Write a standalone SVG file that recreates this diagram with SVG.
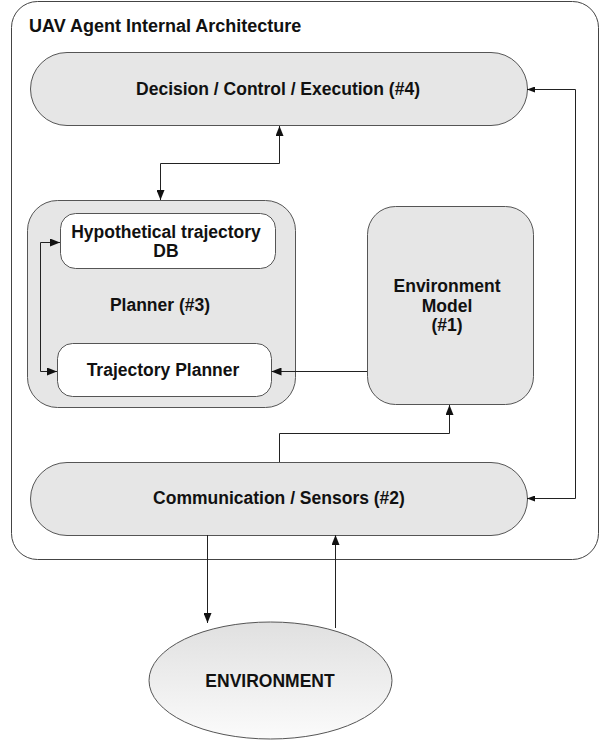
<svg xmlns="http://www.w3.org/2000/svg" width="602" height="742" viewBox="0 0 602 742">
<style>
.box{fill:#e6e6e6;stroke:#555;stroke-width:1}
.inner{fill:#fff;stroke:#555;stroke-width:1}
.t{font-family:"Liberation Sans",Arial,sans-serif;font-weight:bold;font-size:17.5px;fill:#111;text-anchor:middle}
.title{font-size:18px;text-anchor:start}
.c{fill:none;stroke:#222;stroke-width:1}
</style>
<defs>
<marker id="ah" viewBox="0 0 10 8" refX="10" refY="4" markerWidth="10" markerHeight="8" markerUnits="userSpaceOnUse" orient="auto-start-reverse">
<path d="M0,0 L10,4 L0,8 z" fill="#111"/>
</marker>
<marker id="ahs" viewBox="0 0 8 6" refX="8" refY="3" markerWidth="8" markerHeight="6" markerUnits="userSpaceOnUse" orient="auto-start-reverse">
<path d="M0,0 L8,3 L0,6 z" fill="#111"/>
</marker>
<linearGradient id="eg" x1="0" y1="0" x2="0" y2="1">
<stop offset="0" stop-color="#e0e0e0"/>
<stop offset="1" stop-color="#fbfbfb"/>
</linearGradient>
</defs>
<g id="container">
<rect x="11.5" y="1.5" width="587" height="558" rx="26" fill="#fff" stroke="#444"/>
<text x="29" y="32" class="t title">UAV Agent Internal Architecture</text>
</g>
<g id="decision">
<rect class="box" x="30.5" y="52.5" width="497" height="73" rx="36.5"/>
<text class="t" x="278" y="95">Decision / Control / Execution (#4)</text>
</g>
<g id="planner">
<rect class="box" x="27.5" y="200.5" width="268" height="207" rx="30"/>
<text class="t" x="160" y="311">Planner (#3)</text>
</g>
<g id="htdb">
<rect class="inner" x="60.5" y="213.5" width="215" height="55" rx="15"/>
<text class="t" x="166" y="238">Hypothetical trajectory</text>
<text class="t" x="166" y="257">DB</text>
</g>
<g id="trajplanner">
<rect class="inner" x="57.5" y="343.5" width="214" height="53" rx="15"/>
<text class="t" x="163" y="376">Trajectory Planner</text>
</g>
<g id="envmodel">
<rect class="box" x="367.5" y="206.5" width="166" height="198" rx="28"/>
<text class="t" x="447" y="292">Environment</text>
<text class="t" x="447" y="311.5">Model</text>
<text class="t" x="447" y="331">(#1)</text>
</g>
<g id="comm">
<rect class="box" x="30.5" y="462.5" width="497" height="73" rx="36.5"/>
<text class="t" x="279" y="504">Communication / Sensors (#2)</text>
</g>
<g id="environment">
<ellipse cx="270.5" cy="680.5" rx="121.5" ry="58.5" fill="url(#eg)" stroke="#555"/>
<text class="t" x="270" y="687">ENVIRONMENT</text>
</g>
<g id="connectors">
<path class="c" d="M279.5,126 V163.5 H160.5 V200" marker-start="url(#ah)" marker-end="url(#ah)"/>
<path class="c" d="M527,89.5 H575.5 V498.5 H527" marker-start="url(#ahs)" marker-end="url(#ahs)"/>
<path class="c" d="M60,242.5 H40.5 V371.5 H57" marker-start="url(#ah)" marker-end="url(#ah)"/>
<path class="c" d="M367,371.5 H271.5" marker-end="url(#ah)"/>
<path class="c" d="M279.5,462 V433.5 H449.5 V405" marker-end="url(#ah)"/>
<path class="c" d="M207.5,535 V623" marker-end="url(#ah)"/>
<path class="c" d="M335.5,628 V535" marker-end="url(#ah)"/>
</g>
</svg>
